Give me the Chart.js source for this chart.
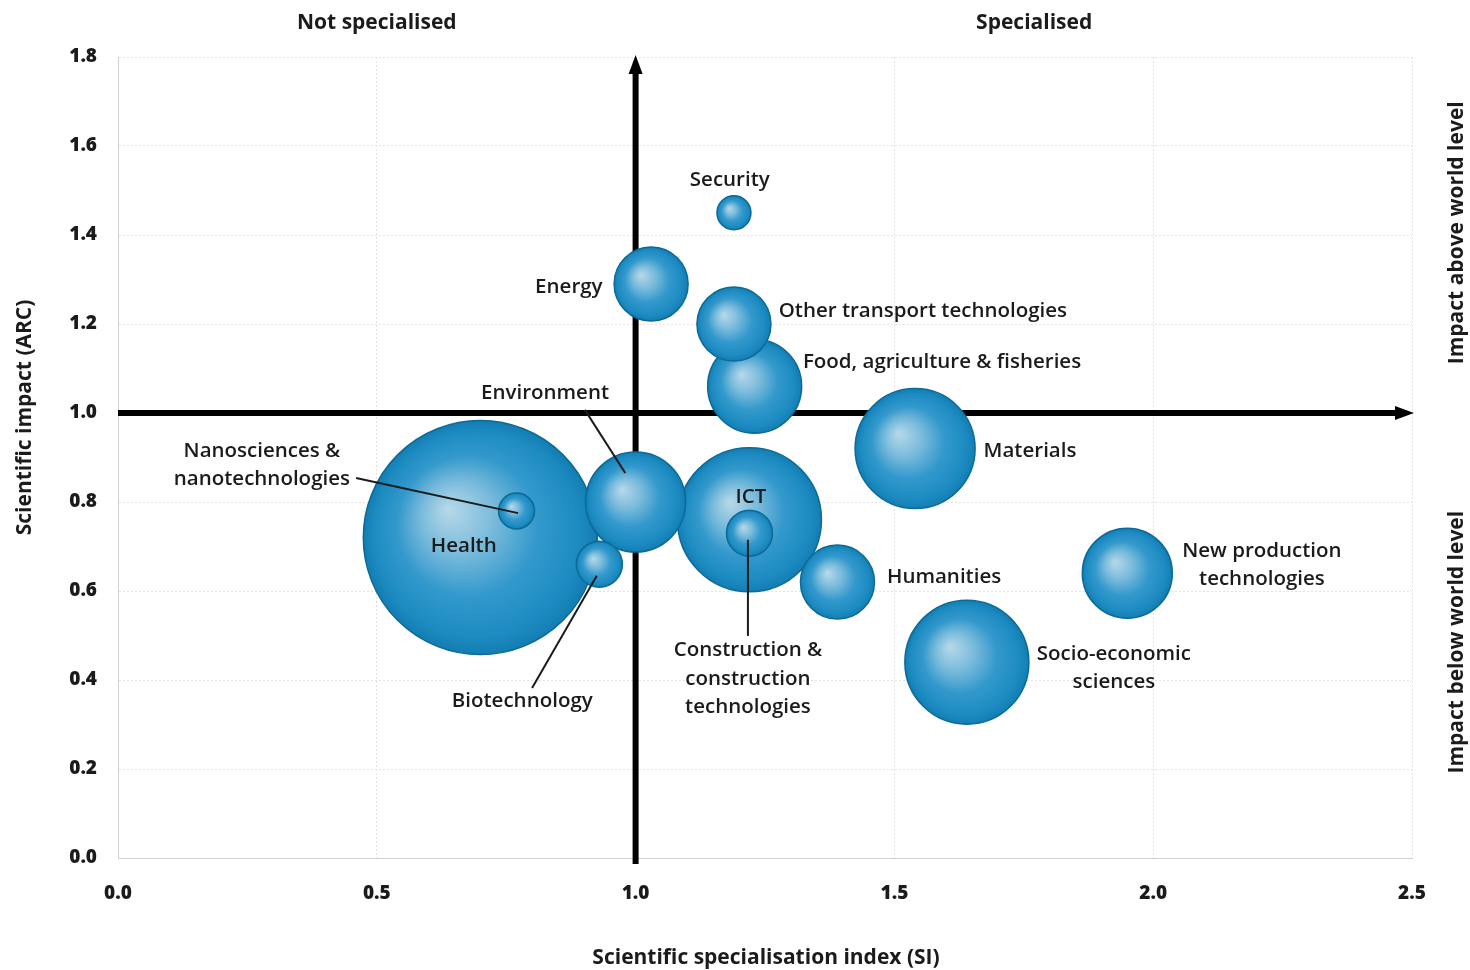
<!DOCTYPE html>
<html>
<head>
<meta charset="utf-8">
<script src="https://cdn.jsdelivr.net/npm/chart.js@4.4.1/dist/chart.umd.min.js"></script>
<style>
  html, body { margin: 0; padding: 0; background: #fff; }
  #wrap { width: 1470px; height: 970px; }
</style>
</head>
<body>
<div id="wrap"><canvas id="bubbleChart"></canvas></div>
<script>
// Scientific specialisation (SI) vs scientific impact (ARC), bubble = size of field
var fields = ["Health", "ICT", "Socio-economic sciences", "Materials", "Environment",
              "Food, agriculture & fisheries", "New production technologies", "Energy",
              "Other transport technologies", "Humanities", "Construction & construction technologies",
              "Biotechnology", "Nanosciences & nanotechnologies", "Security"];
var siValues   = [0.70, 1.22, 1.64, 1.54, 1.00, 1.23, 1.95, 1.03, 1.19, 1.39, 1.22, 0.93, 0.77, 1.19];
var arcValues  = [0.72, 0.76, 0.44, 0.92, 0.80, 1.06, 0.64, 1.29, 1.20, 0.62, 0.73, 0.66, 0.78, 1.45];
var bubbleSize = [117, 72, 62, 60, 50, 47, 45, 37, 37, 37, 23, 23, 18, 17];

var xTicks = [0, 0.5, 1.0, 1.5, 2.0, 2.5];
var yTicks = [0, 0.2, 0.4, 0.6, 0.8, 1.0, 1.2, 1.4, 1.6, 1.8];

var FONT = "'Open Sans', Lato, sans-serif";
var INK = "#1b1b1b";

// text labels placed in data coordinates
var notes = [
  { t: ["Security"], x: 1.182, y: 1.524 },
  { t: ["Energy"], x: 0.871, y: 1.283 },
  { t: ["Other transport technologies"], x: 1.555, y: 1.229 },
  { t: ["Food, agriculture & fisheries"], x: 1.592, y: 1.115 },
  { t: ["Environment"], x: 0.825, y: 1.045 },
  { t: ["Nanosciences &", "nanotechnologies"], x: 0.278, y: 0.883 },
  { t: ["Health"], x: 0.668, y: 0.700 },
  { t: ["ICT"], x: 1.223, y: 0.811 },
  { t: ["Materials"], x: 1.762, y: 0.915 },
  { t: ["Humanities"], x: 1.596, y: 0.631 },
  { t: ["New production", "technologies"], x: 2.21, y: 0.658 },
  { t: ["Socio-economic", "sciences"], x: 1.924, y: 0.427 },
  { t: ["Construction &", "construction", "technologies"], x: 1.217, y: 0.402 },
  { t: ["Biotechnology"], x: 0.781, y: 0.353 }
];
var leaders = [
  [0.460, 0.854, 0.773, 0.775],
  [0.902, 1.007, 0.980, 0.865],
  [0.800, 0.382, 0.925, 0.634],
  [1.217, 0.715, 1.217, 0.499]
];

var points = fields.map(function (f, i) {
  return { x: siValues[i], y: arcValues[i], r: bubbleSize[i] };
});

function bubbleFill(ctx) {
  if (ctx.type !== 'data') return '#1a8dc0';
  var chart = ctx.chart;
  var sx = chart.scales.x, sy = chart.scales.y;
  if (!sx || !sy) return '#1a8dc0';
  var cx = sx.getPixelForValue(ctx.raw.x);
  var cy = sy.getPixelForValue(ctx.raw.y);
  var r = ctx.raw.r;
  if (!isFinite(cx) || !isFinite(cy)) return '#1a8dc0';
  var g = chart.ctx.createRadialGradient(cx - r * 0.28, cy - r * 0.25, 0, cx, cy, r);
  g.addColorStop(0, '#b8d9e9');
  g.addColorStop(0.3, '#7cbcdc');
  g.addColorStop(0.6, '#3399cc');
  g.addColorStop(0.88, '#1c8bc1');
  g.addColorStop(1, '#137db2');
  return g;
}

var quadrantAxes = {
  id: 'quadrantAxes',
  beforeDatasetsDraw: function (chart) {
    var c = chart.ctx, a = chart.chartArea;
    var x1 = chart.scales.x.getPixelForValue(1.0);
    var y1 = chart.scales.y.getPixelForValue(1.0);
    c.save();
    c.strokeStyle = '#000';
    c.fillStyle = '#000';
    c.lineWidth = 6;
    c.beginPath();
    c.moveTo(x1, a.bottom + 6);
    c.lineTo(x1, a.top + 14);
    c.moveTo(a.left, y1);
    c.lineTo(a.right - 14, y1);
    c.stroke();
    // arrow heads
    c.beginPath();
    c.moveTo(x1, a.top - 2);
    c.lineTo(x1 - 7, a.top + 17);
    c.lineTo(x1 + 7, a.top + 17);
    c.closePath();
    c.fill();
    c.beginPath();
    c.moveTo(a.right + 2, y1);
    c.lineTo(a.right - 17, y1 - 7);
    c.lineTo(a.right - 17, y1 + 7);
    c.closePath();
    c.fill();
    c.restore();
  },
  afterDatasetsDraw: function (chart) {
    var c = chart.ctx, a = chart.chartArea;
    var sx = chart.scales.x, sy = chart.scales.y;
    c.save();
    c.strokeStyle = INK;
    c.lineWidth = 2;
    leaders.forEach(function (l) {
      c.beginPath();
      c.moveTo(sx.getPixelForValue(l[0]), sy.getPixelForValue(l[1]));
      c.lineTo(sx.getPixelForValue(l[2]), sy.getPixelForValue(l[3]));
      c.stroke();
    });
    c.fillStyle = INK;
    c.textAlign = 'center';
    c.textBaseline = 'middle';
    c.font = "600 20.5px " + FONT;
    notes.forEach(function (n) {
      var px = sx.getPixelForValue(n.x), py = sy.getPixelForValue(n.y);
      var lh = 28.5;
      var top = py - (n.t.length - 1) * lh / 2;
      n.t.forEach(function (line, k) { c.fillText(line, px, top + k * lh); });
    });

    // quadrant headings and axis titles
    c.font = "bold 21px " + FONT;
    c.fillText("Not specialised", sx.getPixelForValue(0.5), 23);
    c.fillText("Specialised", sx.getPixelForValue(1.77), 23);
    c.fillText("Scientific specialisation index (SI)", (a.left + a.right) / 2 + 1, 958);

    c.save();
    c.translate(25, sy.getPixelForValue(0.99));
    c.rotate(-Math.PI / 2);
    c.fillText("Scientific impact (ARC)", 0, 0);
    c.restore();

    c.save();
    c.translate(1457, sy.getPixelForValue(1.405));
    c.rotate(-Math.PI / 2);
    c.fillText("Impact above world level", 0, 0);
    c.restore();

    c.save();
    c.translate(1457, sy.getPixelForValue(0.485));
    c.rotate(-Math.PI / 2);
    c.fillText("Impact below world level", 0, 0);
    c.restore();
    c.restore();
  }
};

new Chart(document.getElementById("bubbleChart"), {
  type: 'bubble',
  data: {
    datasets: [{
      label: 'Fields',
      data: points,
      backgroundColor: bubbleFill,
      borderColor: '#0b6a98',
      borderWidth: 1.5
    }]
  },
  options: {
    responsive: true,
    maintainAspectRatio: false,
    animation: false,
    events: [],
    clip: false,
    layout: { autoPadding: false, padding: { left: 0, top: 57, right: 58, bottom: 0 } },
    plugins: {
      legend: { display: false },
      tooltip: { enabled: false }
    },
    scales: {
      x: {
        type: 'linear',
        min: 0,
        max: 2.5,
        afterFit: function (s) { s.height = 112; },
        afterBuildTicks: function (s) { s.ticks = xTicks.map(function (v) { return { value: v }; }); },
        grid: { color: '#e3e3e3', lineWidth: 1, drawTicks: false },
        border: { display: true, color: '#d0d0d0', dash: [2, 2] },
        ticks: {
          padding: 24,
          color: INK,
          font: { family: FONT, size: 19, weight: '800' },
          callback: function (v) { return v.toFixed(1); }
        }
      },
      y: {
        type: 'linear',
        min: 0,
        max: 1.8,
        afterFit: function (s) { s.width = 118; },
        afterBuildTicks: function (s) { s.ticks = yTicks.map(function (v) { return { value: v }; }); },
        grid: { color: '#e3e3e3', lineWidth: 1, drawTicks: false },
        border: { display: true, color: '#d0d0d0', dash: [2, 2] },
        ticks: {
          padding: 21,
          color: INK,
          font: { family: FONT, size: 19, weight: '800' },
          callback: function (v) { return v.toFixed(1); }
        }
      }
    }
  },
  plugins: [quadrantAxes]
});
</script>
</body>
</html>
